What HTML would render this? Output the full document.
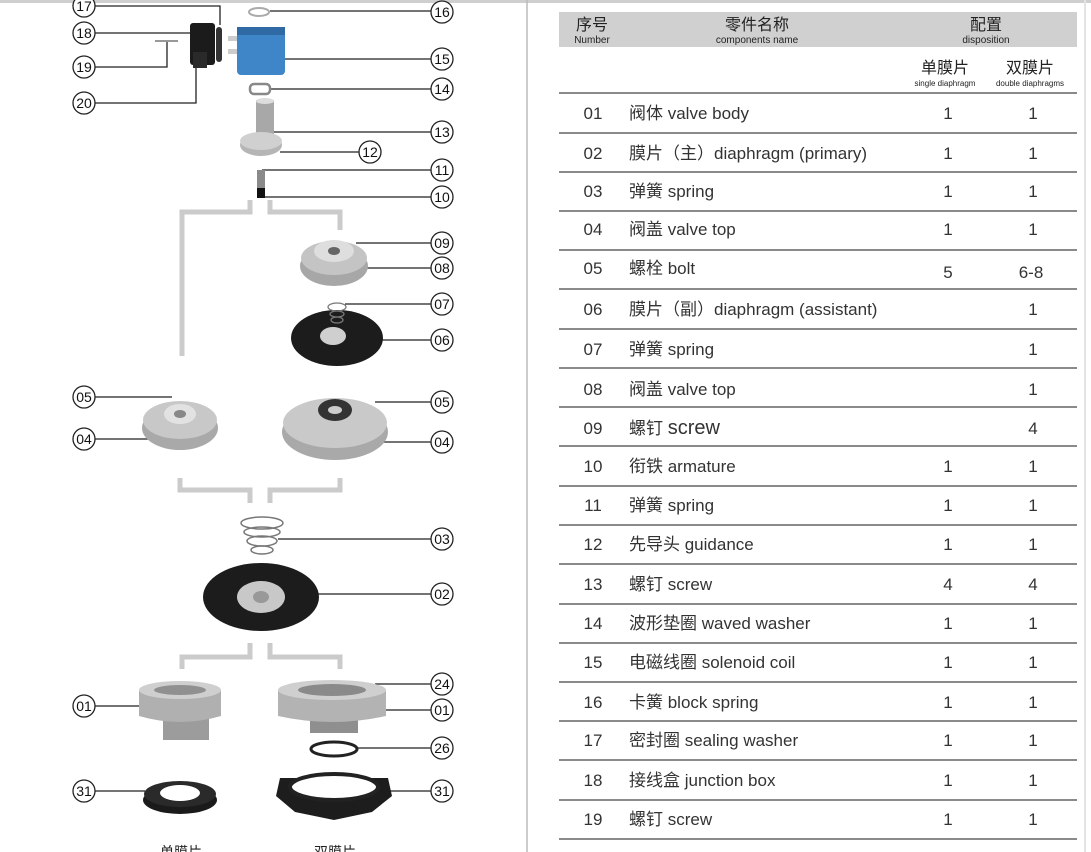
<!DOCTYPE html>
<html><head><meta charset="utf-8"><style>
html,body{margin:0;padding:0;background:#fff;width:1091px;height:852px;overflow:hidden}
svg{display:block}
text{font-family:"Liberation Sans","Noto Sans CJK SC",sans-serif}
</style></head><body>
<svg width="1091" height="852" viewBox="0 0 1091 852" xmlns="http://www.w3.org/2000/svg">
<rect x="0" y="0" width="1091" height="3" fill="#cfcfcf"/>
<line x1="527" y1="0" x2="527" y2="852" stroke="#bbb" stroke-width="1.5"/>
<line x1="1085" y1="0" x2="1085" y2="852" stroke="#e4e4e4" stroke-width="2"/>

<g fill="none" stroke="#cbcbcb" stroke-width="5">
<polyline points="250,200 250,212 182,212 182,356"/>
<polyline points="270,200 270,212 340,212 340,230"/>
<polyline points="180,478 180,490 250,490 250,503"/>
<polyline points="340,478 340,490 270,490 270,503"/>
<polyline points="250,643 250,657 182,657 182,669"/>
<polyline points="270,643 270,657 340,657 340,669"/>
</g>

<g fill="none" stroke="#222" stroke-width="1.3">
<polyline points="95,6 220,6 220,25"/>
<line x1="95" y1="33" x2="190" y2="33"/>
<polyline points="95,67 167,67 167,42"/>
<polyline points="95,103 196,103 196,65"/>
<line x1="270" y1="11" x2="431" y2="11"/>
<line x1="280" y1="59" x2="431" y2="59"/>
<line x1="270" y1="89" x2="431" y2="89"/>
<line x1="272" y1="132" x2="431" y2="132"/>
<line x1="280" y1="152" x2="359" y2="152"/>
<line x1="262" y1="170" x2="431" y2="170"/>
<line x1="265" y1="197" x2="431" y2="197"/>
<line x1="356" y1="243" x2="431" y2="243"/>
<line x1="366" y1="268" x2="431" y2="268"/>
<line x1="345" y1="304" x2="431" y2="304"/>
<line x1="375" y1="340" x2="431" y2="340"/>
<line x1="95" y1="397" x2="172" y2="397"/>
<line x1="95" y1="439" x2="148" y2="439"/>
<line x1="375" y1="402" x2="431" y2="402"/>
<line x1="376" y1="442" x2="431" y2="442"/>
<line x1="278" y1="539" x2="431" y2="539"/>
<line x1="316" y1="594" x2="431" y2="594"/>
<line x1="95" y1="706" x2="142" y2="706"/>
<line x1="375" y1="684" x2="431" y2="684"/>
<line x1="385" y1="710" x2="431" y2="710"/>
<line x1="357" y1="748" x2="431" y2="748"/>
<line x1="95" y1="791" x2="145" y2="791"/>
<line x1="390" y1="791" x2="431" y2="791"/>
</g>

<g fill="#fff" stroke="#222" stroke-width="1.3">
<circle cx="84" cy="6" r="11"/><circle cx="84" cy="33" r="11"/><circle cx="84" cy="67" r="11"/><circle cx="84" cy="103" r="11"/>
<circle cx="442" cy="12" r="11"/><circle cx="442" cy="59" r="11"/><circle cx="442" cy="89" r="11"/><circle cx="442" cy="132" r="11"/>
<circle cx="370" cy="152" r="11"/><circle cx="442" cy="170" r="11"/><circle cx="442" cy="197" r="11"/><circle cx="442" cy="243" r="11"/>
<circle cx="442" cy="268" r="11"/><circle cx="442" cy="304" r="11"/><circle cx="442" cy="340" r="11"/>
<circle cx="84" cy="397" r="11"/><circle cx="84" cy="439" r="11"/><circle cx="442" cy="402" r="11"/><circle cx="442" cy="442" r="11"/>
<circle cx="442" cy="539" r="11"/><circle cx="442" cy="594" r="11"/><circle cx="84" cy="706" r="11"/><circle cx="442" cy="684" r="11"/>
<circle cx="442" cy="710" r="11"/><circle cx="442" cy="748" r="11"/><circle cx="84" cy="791" r="11"/><circle cx="442" cy="791" r="11"/>
</g>
<g font-size="14" text-anchor="middle" fill="#111">
<text x="84" y="11">17</text><text x="84" y="38">18</text><text x="84" y="72">19</text><text x="84" y="108">20</text>
<text x="442" y="17">16</text><text x="442" y="64">15</text><text x="442" y="94">14</text><text x="442" y="137">13</text>
<text x="370" y="157">12</text><text x="442" y="175">11</text><text x="442" y="202">10</text><text x="442" y="248">09</text>
<text x="442" y="273">08</text><text x="442" y="309">07</text><text x="442" y="345">06</text>
<text x="84" y="402">05</text><text x="84" y="444">04</text><text x="442" y="407">05</text><text x="442" y="447">04</text>
<text x="442" y="544">03</text><text x="442" y="599">02</text><text x="84" y="711">01</text><text x="442" y="689">24</text>
<text x="442" y="715">01</text><text x="442" y="753">26</text><text x="84" y="796">31</text><text x="442" y="796">31</text>
</g>

<rect x="190" y="23" width="25" height="42" rx="3" fill="#1b1b1b"/>
<rect x="193" y="52" width="14" height="16" fill="#2a2a2a"/>
<rect x="216" y="27" width="6" height="35" rx="3" fill="#333"/>
<line x1="155" y1="41" x2="178" y2="41" stroke="#999" stroke-width="2"/>
<rect x="228" y="36" width="10" height="5" fill="#ccc"/><rect x="228" y="49" width="10" height="5" fill="#ccc"/>
<rect x="237" y="27" width="48" height="48" rx="4" fill="#3f86c8"/>
<rect x="237" y="27" width="48" height="8" fill="#2f6aa5"/>
<ellipse cx="259" cy="12" rx="10" ry="4" fill="none" stroke="#aaa" stroke-width="2"/>
<rect x="250" y="84" width="20" height="10" rx="4" fill="none" stroke="#888" stroke-width="2.5"/>
<rect x="256" y="100" width="18" height="40" fill="#a8a8a8"/>
<ellipse cx="265" cy="101" rx="9" ry="3" fill="#ddd"/>
<ellipse cx="261" cy="145" rx="21" ry="11" fill="#b5b5b5"/>
<ellipse cx="261" cy="141" rx="21" ry="9" fill="#d0d0d0"/>
<rect x="257" y="170" width="8" height="20" fill="#8a8a8a"/><rect x="257" y="188" width="8" height="10" fill="#111"/>

<ellipse cx="334" cy="266" rx="34" ry="20" fill="#a7a7a7"/>
<ellipse cx="334" cy="258" rx="33" ry="17" fill="#c4c4c4"/>
<ellipse cx="334" cy="251" rx="20" ry="11" fill="#dedede"/>
<ellipse cx="334" cy="251" rx="6" ry="4" fill="#666"/>
<ellipse cx="337" cy="338" rx="46" ry="28" fill="#1c1c1c"/>
<ellipse cx="333" cy="336" rx="13" ry="9" fill="#cfcfcf"/>
<g fill="none" stroke="#777" stroke-width="1.3"><ellipse cx="337" cy="307" rx="9" ry="4"/><ellipse cx="337" cy="314" rx="7" ry="3"/><ellipse cx="337" cy="320" rx="6" ry="3"/></g>
<ellipse cx="180" cy="428" rx="38" ry="22" fill="#a9a9a9"/>
<ellipse cx="180" cy="420" rx="37" ry="19" fill="#c8c8c8"/>
<ellipse cx="180" cy="414" rx="16" ry="10" fill="#e2e2e2"/>
<ellipse cx="180" cy="414" rx="6" ry="4" fill="#888"/>
<ellipse cx="335" cy="432" rx="53" ry="28" fill="#a9a9a9"/>
<ellipse cx="335" cy="423" rx="52" ry="25" fill="#c9c9c9"/>
<ellipse cx="335" cy="410" rx="17" ry="11" fill="#333"/>
<ellipse cx="335" cy="410" rx="7" ry="4" fill="#ccc"/>
<g fill="none" stroke="#777" stroke-width="1.5"><ellipse cx="262" cy="523" rx="21" ry="6"/><ellipse cx="262" cy="532" rx="18" ry="5"/><ellipse cx="262" cy="541" rx="15" ry="5"/><ellipse cx="262" cy="550" rx="11" ry="4"/></g>
<ellipse cx="261" cy="597" rx="58" ry="34" fill="#1c1c1c"/>
<ellipse cx="261" cy="597" rx="24" ry="16" fill="#c8c8c8"/>
<ellipse cx="261" cy="597" rx="8" ry="6" fill="#999"/>
<rect x="163" y="710" width="46" height="30" fill="#9c9c9c"/>
<path d="M139,690 L221,690 L221,716 Q180,728 139,716 Z" fill="#b0b0b0"/>
<ellipse cx="180" cy="690" rx="41" ry="9" fill="#cfcfcf"/>
<ellipse cx="180" cy="690" rx="26" ry="5" fill="#909090"/>
<rect x="310" y="715" width="48" height="18" fill="#8f8f8f"/>
<path d="M278,690 L386,690 L386,716 Q332,728 278,716 Z" fill="#b3b3b3"/>
<ellipse cx="332" cy="690" rx="54" ry="10" fill="#cfcfcf"/>
<ellipse cx="332" cy="690" rx="34" ry="6" fill="#8a8a8a"/>
<ellipse cx="334" cy="749" rx="23" ry="7" fill="none" stroke="#222" stroke-width="3"/>
<ellipse cx="180" cy="800" rx="37" ry="14" fill="#1a1a1a"/>
<ellipse cx="180" cy="794" rx="36" ry="13" fill="#2a2a2a"/>
<ellipse cx="180" cy="793" rx="20" ry="8" fill="#fff"/>
<path d="M276,796 L295,812 L334,820 L372,812 L392,796 L388,778 L280,778 Z" fill="#1d1d1d"/>
<ellipse cx="334" cy="787" rx="44" ry="13" fill="#fff" stroke="#222" stroke-width="4"/>
<g font-size="14" fill="#222"><text x="160" y="857">单膜片</text><text x="314" y="857">双膜片</text></g>

<rect x="559" y="12" width="518" height="35" fill="#d0d0d0"/>
<g text-anchor="middle" fill="#222">
<text x="592" y="30" font-size="16">序号</text><text x="592" y="43" font-size="10">Number</text>
<text x="757" y="30" font-size="16">零件名称</text><text x="757" y="43" font-size="10">components name</text>
<text x="986" y="30" font-size="16">配置</text><text x="986" y="43" font-size="10">disposition</text>
<text x="945" y="73" font-size="16">单膜片</text><text x="945" y="86" font-size="8">single diaphragm</text>
<text x="1030" y="73" font-size="16">双膜片</text><text x="1030" y="86" font-size="8">double diaphragms</text>
</g>
<g stroke="#444" stroke-width="1.3">
<line x1="559" x2="1077" y1="93" y2="93"/><line x1="559" x2="1077" y1="133" y2="133"/><line x1="559" x2="1077" y1="172" y2="172"/>
<line x1="559" x2="1077" y1="211" y2="211"/><line x1="559" x2="1077" y1="250" y2="250"/><line x1="559" x2="1077" y1="289" y2="289"/>
<line x1="559" x2="1077" y1="329" y2="329"/><line x1="559" x2="1077" y1="368" y2="368"/><line x1="559" x2="1077" y1="407" y2="407"/>
<line x1="559" x2="1077" y1="446" y2="446"/><line x1="559" x2="1077" y1="486" y2="486"/><line x1="559" x2="1077" y1="525" y2="525"/>
<line x1="559" x2="1077" y1="564" y2="564"/><line x1="559" x2="1077" y1="604" y2="604"/><line x1="559" x2="1077" y1="643" y2="643"/>
<line x1="559" x2="1077" y1="682" y2="682"/><line x1="559" x2="1077" y1="721" y2="721"/><line x1="559" x2="1077" y1="760" y2="760"/>
<line x1="559" x2="1077" y1="800" y2="800"/><line x1="559" x2="1077" y1="839" y2="839"/>
</g>
<g font-size="17" fill="#333">
<g text-anchor="middle">
<text x="593" y="119">01</text><text x="593" y="159">02</text><text x="593" y="197">03</text><text x="593" y="235">04</text>
<text x="593" y="274">05</text><text x="593" y="315">06</text><text x="593" y="355">07</text><text x="593" y="395">08</text>
<text x="593" y="434">09</text><text x="593" y="472">10</text><text x="593" y="511">11</text><text x="593" y="550">12</text>
<text x="593" y="590">13</text><text x="593" y="629">14</text><text x="593" y="668">15</text><text x="593" y="708">16</text>
<text x="593" y="746">17</text><text x="593" y="786">18</text><text x="593" y="825">19</text>
</g>
<text x="629" y="119">阀体 valve body</text>
<text x="629" y="159">膜片（主）diaphragm (primary)</text>
<text x="629" y="197">弹簧 spring</text>
<text x="629" y="235">阀盖 valve top</text>
<text x="629" y="274">螺栓 bolt</text>
<text x="629" y="315">膜片（副）diaphragm (assistant)</text>
<text x="629" y="355">弹簧 spring</text>
<text x="629" y="395">阀盖 valve top</text>
<text x="629" y="434">螺钉 <tspan font-size="20">screw</tspan></text>
<text x="629" y="472">衔铁 armature</text>
<text x="629" y="511">弹簧 spring</text>
<text x="629" y="550">先导头 guidance</text>
<text x="629" y="590">螺钉 screw</text>
<text x="629" y="629">波形垫圈 waved washer</text>
<text x="629" y="668">电磁线圈 solenoid coil</text>
<text x="629" y="708">卡簧 block spring</text>
<text x="629" y="746">密封圈 sealing washer</text>
<text x="629" y="786">接线盒 junction box</text>
<text x="629" y="825">螺钉  screw</text>
<g text-anchor="middle">
<text x="948" y="119">1</text><text x="1033" y="119">1</text>
<text x="948" y="159">1</text><text x="1033" y="159">1</text>
<text x="948" y="197">1</text><text x="1033" y="197">1</text>
<text x="948" y="235">1</text><text x="1033" y="235">1</text>
<text x="948" y="278">5</text><text x="1031" y="278">6-8</text>
<text x="1033" y="315">1</text>
<text x="1033" y="355">1</text>
<text x="1033" y="395">1</text>
<text x="1033" y="434">4</text>
<text x="948" y="472">1</text><text x="1033" y="472">1</text>
<text x="948" y="511">1</text><text x="1033" y="511">1</text>
<text x="948" y="550">1</text><text x="1033" y="550">1</text>
<text x="948" y="590">4</text><text x="1033" y="590">4</text>
<text x="948" y="629">1</text><text x="1033" y="629">1</text>
<text x="948" y="668">1</text><text x="1033" y="668">1</text>
<text x="948" y="708">1</text><text x="1033" y="708">1</text>
<text x="948" y="746">1</text><text x="1033" y="746">1</text>
<text x="948" y="786">1</text><text x="1033" y="786">1</text>
<text x="948" y="825">1</text><text x="1033" y="825">1</text>
</g>
</g>
</svg>
</body></html>
